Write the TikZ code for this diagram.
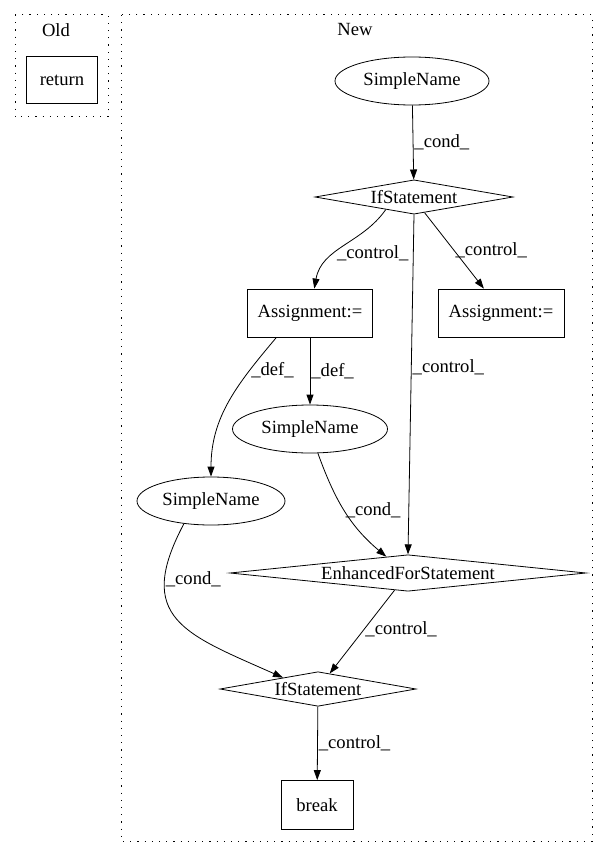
\documentclass[tikz,border=0pt]{standalone}
\usepackage{fontspec}
\setmainfont{Liberation Serif}
\usetikzlibrary{arrows.meta,shapes.geometric}

\begin{document}
\begin{tikzpicture}[x=1pt,y=1pt,->,>={Triangle[length=10pt,width=7pt]},thick,
                    font=\fontsize{18.6}{22}\selectfont,
                    box node/.style={rectangle,draw,minimum height=48pt,inner sep=0pt},
                    name node/.style={ellipse,draw,minimum height=48pt,inner sep=0pt},
                    cond node/.style={diamond,draw,inner sep=0pt},
                    cluster/.style={-,line width=1pt,dash pattern=on 1.2pt off 6pt}]
                \useasboundingbox (0,0) rectangle (608,-856);
                % clusters
                \draw[cluster] (15,-15) rectangle (108,-117);
                \draw[cluster] (121,-15) rectangle (592,-841);
                \node (old) at (56,-30) {Old};
                \node (new) at (355,-30) {New};
                % nodes
                \node[box node,minimum width=71pt,minimum height=47pt] (ret) at (62,-80) {return};
                \node[name node,minimum width=154pt] (sn1) at (412,-81) {SimpleName};
                \node[cond node,aspect=4.125,minimum width=198pt] (if1) at (414,-197) {IfStatement};
                \node[box node,minimum width=125pt] (asg1) at (310,-313) {Assignment:=};
                \node[box node,minimum width=126pt] (asg2) at (501,-313) {Assignment:=};
                \node[name node,minimum width=155pt] (sn2) at (310,-429) {SimpleName};
                \node[name node,minimum width=148pt] (sn3) at (211,-501) {SimpleName};
                \node[cond node,aspect=7.42,minimum width=356pt] (efor) at (408,-573) {EnhancedForStatement};
                \node[cond node,aspect=4.08,minimum width=196pt] (if2) at (318,-689) {IfStatement};
                \node[box node,minimum width=72pt,minimum height=49pt] (brk) at (317,-805) {break};
                % edges
                \path[every node/.style={right,inner sep=1pt}]
                    (sn1) edge node {\_cond\_} (if1)
                    (if1.-156) edge[out=-125,in=80] node[pos=0.6] {\_control\_} (asg1)
                    (if1.-56) edge node {\_control\_} (asg2.125)
                    (if1.south) edge node[pos=0.45] {\_control\_} (efor.north)
                    (asg1.-144) edge[out=-130,in=90] node[pos=0.25] {\_def\_} (sn3)
                    (asg1) edge node {\_def\_} (sn2)
                    (sn2.-72) edge[out=-70,in=140] node[pos=0.5] {\_cond\_} (efor.143)
                    (sn3.-140) edge[out=-118,in=156,looseness=1.5] node[pos=0.24] {\_cond\_} (if2.162)
                    (efor.-128) edge node[pos=0.47] {\_control\_} (if2.53)
                    (if2) edge node {\_control\_} (brk);
\end{tikzpicture}
\end{document}
